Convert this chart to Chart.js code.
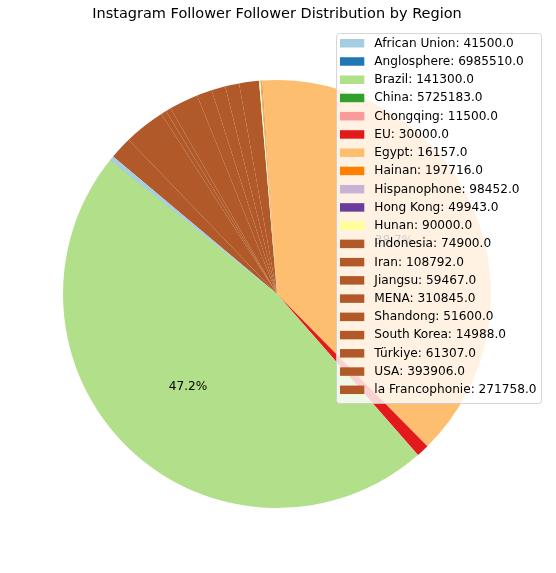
<!DOCTYPE html>
<html>
<head>
<meta charset="utf-8">
<script src="https://cdn.jsdelivr.net/npm/chart.js@4/dist/chart.umd.min.js"></script>
<style>
  html, body { margin: 0; padding: 0; background: #fff; }
  canvas { display: block; }
</style>
</head>
<body>
<canvas id="pie" width="556" height="573"></canvas>
<script>
// regions, in legend order (matplotlib draws them counter-clockwise)
const regions = ['African Union', 'Anglosphere', 'Brazil', 'China', 'Chongqing', 'EU', 'Egypt',
  'Hainan', 'Hispanophone', 'Hong Kong', 'Hunan', 'Indonesia', 'Iran', 'Jiangsu', 'MENA',
  'Shandong', 'South Korea', 'Türkiye', 'USA', 'la Francophonie'];

// follower counts shown in the legend
const followers = [41500, 6985510, 141300, 5725183, 11500, 30000, 16157, 197716, 98452, 49943,
  90000, 74900, 108792, 59467, 310845, 51600, 14988, 61307, 393906, 271758];

// slice sizes as drawn in the picture (percent of the pie)
const shares = [0.3, 0.02, 47.2, 0.02, 0.02, 0.95, 38.7, 0.06, 0.03, 0.03,
  0.12, 1.5, 1.05, 1.05, 1.15, 2.2, 0.4, 0.4, 3.1, 1.7];

// Paired colormap, clipped at the last colour
const paired = ['#a6cee3', '#1f78b4', '#b2df8a', '#33a02c', '#fb9a99', '#e31a1c',
  '#fdbf6f', '#ff7f00', '#cab2d6', '#6a3d9a', '#ffff99', '#b15928'];
const colors = regions.map((r, i) => paired[Math.min(i, paired.length - 1)]);

const legendLabels = regions.map((r, i) => `${r}: ${followers[i].toFixed(1)}`);

// chart.js goes clockwise, so feed it reversed
const revLabels = regions.slice().reverse();
const revShares = shares.slice().reverse();
const revColors = colors.slice().reverse();

const FONT = "'DejaVu Sans', sans-serif";

const pctLabels = {
  id: 'pctLabels',
  afterDatasetsDraw(chart) {
    const ctx = chart.ctx;
    const meta = chart.getDatasetMeta(0);
    const total = revShares.reduce((a, b) => a + b, 0);
    ctx.save();
    ctx.font = `12.15px ${FONT}`;
    ctx.fillStyle = '#000';
    ctx.textAlign = 'center';
    ctx.textBaseline = 'middle';
    meta.data.forEach((arc, i) => {
      const p = revShares[i] / total * 100;
      if (p < 5) return;
      const mid = (arc.startAngle + arc.endAngle) / 2;
      const r = arc.outerRadius * 0.6;
      ctx.fillText(p.toFixed(1) + '%', arc.x + Math.cos(mid) * r, arc.y + Math.sin(mid) * r);
    });
    ctx.restore();
  }
};

const boxLegend = {
  id: 'boxLegend',
  afterDraw(chart) {
    const ctx = chart.ctx;
    const left = 336, top = 33, w = 205, rowH = 18.24;
    const h = 370;
    ctx.save();
    ctx.fillStyle = 'rgba(255,255,255,0.8)';
    ctx.strokeStyle = 'rgba(204,204,204,0.8)';
    ctx.lineWidth = 1;
    ctx.beginPath();
    ctx.roundRect(left + 0.5, top + 0.5, w, h, 3);
    ctx.fill();
    ctx.stroke();
    ctx.font = `12.15px ${FONT}`;
    ctx.textBaseline = 'middle';
    legendLabels.forEach((txt, i) => {
      const y = top + 10 + i * rowH;
      ctx.fillStyle = colors[i];
      ctx.fillRect(340, y - 4, 24.3, 8.5);
      ctx.fillStyle = '#000';
      ctx.fillText(txt, 374.3, y + 0.5);
    });
    ctx.restore();
  }
};

new Chart(document.getElementById('pie').getContext('2d'), {
  type: 'pie',
  data: {
    labels: revLabels,
    datasets: [{
      data: revShares,
      backgroundColor: revColors,
      borderWidth: 0
    }]
  },
  options: {
    responsive: false,
    animation: false,
    devicePixelRatio: 1,
    rotation: -50,
    layout: {
      padding: { left: 63, right: 65, top: 0, bottom: 65 }
    },
    plugins: {
      legend: { display: false },
      tooltip: { enabled: false },
      title: {
        display: true,
        text: 'Instagram Follower Follower Distribution by Region',
        color: '#000',
        font: { family: FONT, size: 14.5, weight: 'normal' },
        padding: { top: 6, bottom: 56.6 }
      }
    }
  },
  plugins: [pctLabels, boxLegend]
});
</script>
</body>
</html>
